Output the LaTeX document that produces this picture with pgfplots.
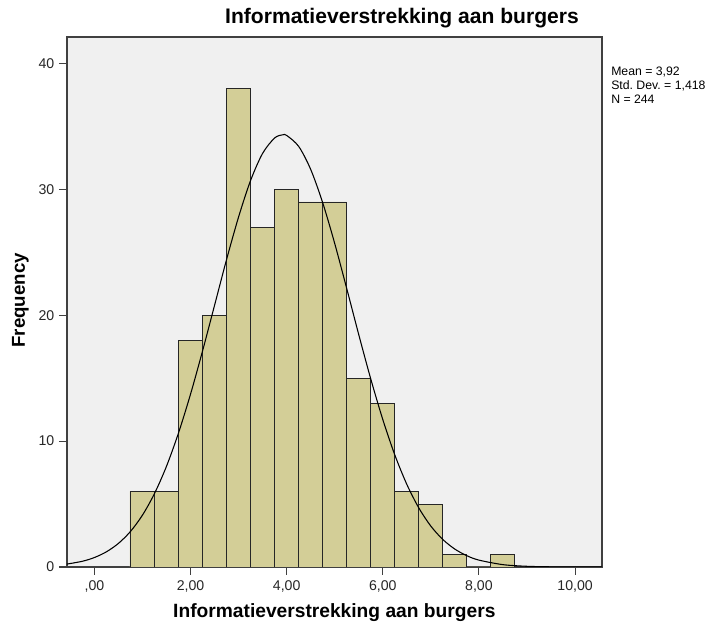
\documentclass[border=0pt]{standalone}
\usepackage{fontspec}
\setmainfont{Liberation Sans}
\usepackage{pgfplots}
\pgfplotsset{compat=1.18}
\definecolor{barfill}{RGB}{211,206,151}
\definecolor{bgfill}{RGB}{240,240,240}
\begin{document}
\begin{tikzpicture}
\useasboundingbox (-50.25pt,-45.75pt) rectangle (490.5pt,425.25pt);
\begin{axis}[
  at={(0,0)}, anchor=south west,
  scale only axis, width=401.25pt, height=397.5pt,
  xmin=-0.57, xmax=10.56, ymin=0, ymax=42.1,
  axis background/.style={fill=bgfill},
  axis line style={black!75, line width=0.8pt},
  xtick={0,2,4,6,8,10},
  xticklabels={{,00},{2,00},{4,00},{6,00},{8,00},{10,00}},
  ytick={0,10,20,30,40},
  tick align=outside, tick pos=left,
  major tick length=6pt,
  tick style={black!75, line width=0.8pt},
  /pgf/number format/assume math mode=true,
  tick label style={font=\fontsize{10.6pt}{12pt}\selectfont, text=black!85},
  xticklabel style={yshift=-1pt},
  clip=true,
]
\addplot[ybar interval, fill=barfill, draw=black!85, line width=0.6pt] coordinates {
 (0.74,6) (1.24,6) (1.74,18) (2.24,20) (2.74,38) (3.24,27) (3.74,30) (4.24,29)
 (4.74,29) (5.24,15) (5.74,13) (6.24,6) (6.74,5) (7.24,1) (7.74,0) (8.24,1) (8.74,1)
};
\addplot[smooth, black, line width=0.8pt, mark=none] coordinates {
 (-0.6,0.214) (-0.25,0.455) (0,0.752) (0.25,1.206) (0.5,1.874) (0.75,2.821)
 (1.0,4.120) (1.25,5.833) (1.5,8.003) (1.75,10.65) (2.0,13.73) (2.25,17.16)
 (2.5,20.79) (2.75,24.43) (3.0,27.81) (3.25,30.71) (3.5,32.86) (3.75,34.08)
 (3.92,34.33) (4.0,34.28) (4.25,33.41) (4.5,31.58) (4.75,28.93) (5.0,25.69)
 (5.25,22.11) (5.5,18.45) (5.75,14.93) (6.0,11.71) (6.25,8.899) (6.5,6.560)
 (6.75,4.686) (7.0,3.245) (7.25,2.179) (7.5,1.418) (7.75,0.894) (8.0,0.547)
 (8.5,0.1865) (9.0,0.0561) (9.5,0.0149) (10.0,0.0035) (10.6,0.0004)
};
\end{axis}
% title
\node[font=\bfseries\fontsize{15.8pt}{18pt}\selectfont] at (251.25pt,411.5pt) {Informatieverstrekking aan burgers};
% axis labels
\node[font=\bfseries\fontsize{14.4pt}{16pt}\selectfont] at (200.5pt,-34pt) {Informatieverstrekking aan burgers};
\node[font=\bfseries\fontsize{14pt}{16pt}\selectfont, rotate=90] at (-35pt,200pt) {Frequency};
% statistics
\node[anchor=north west, font=\fontsize{9.2pt}{10.4pt}\selectfont, align=left, inner sep=0pt] at (408pt,375pt) {Mean = 3,92\\Std.\ Dev.\ = 1,418\\N = 244};
\end{tikzpicture}
\end{document}
